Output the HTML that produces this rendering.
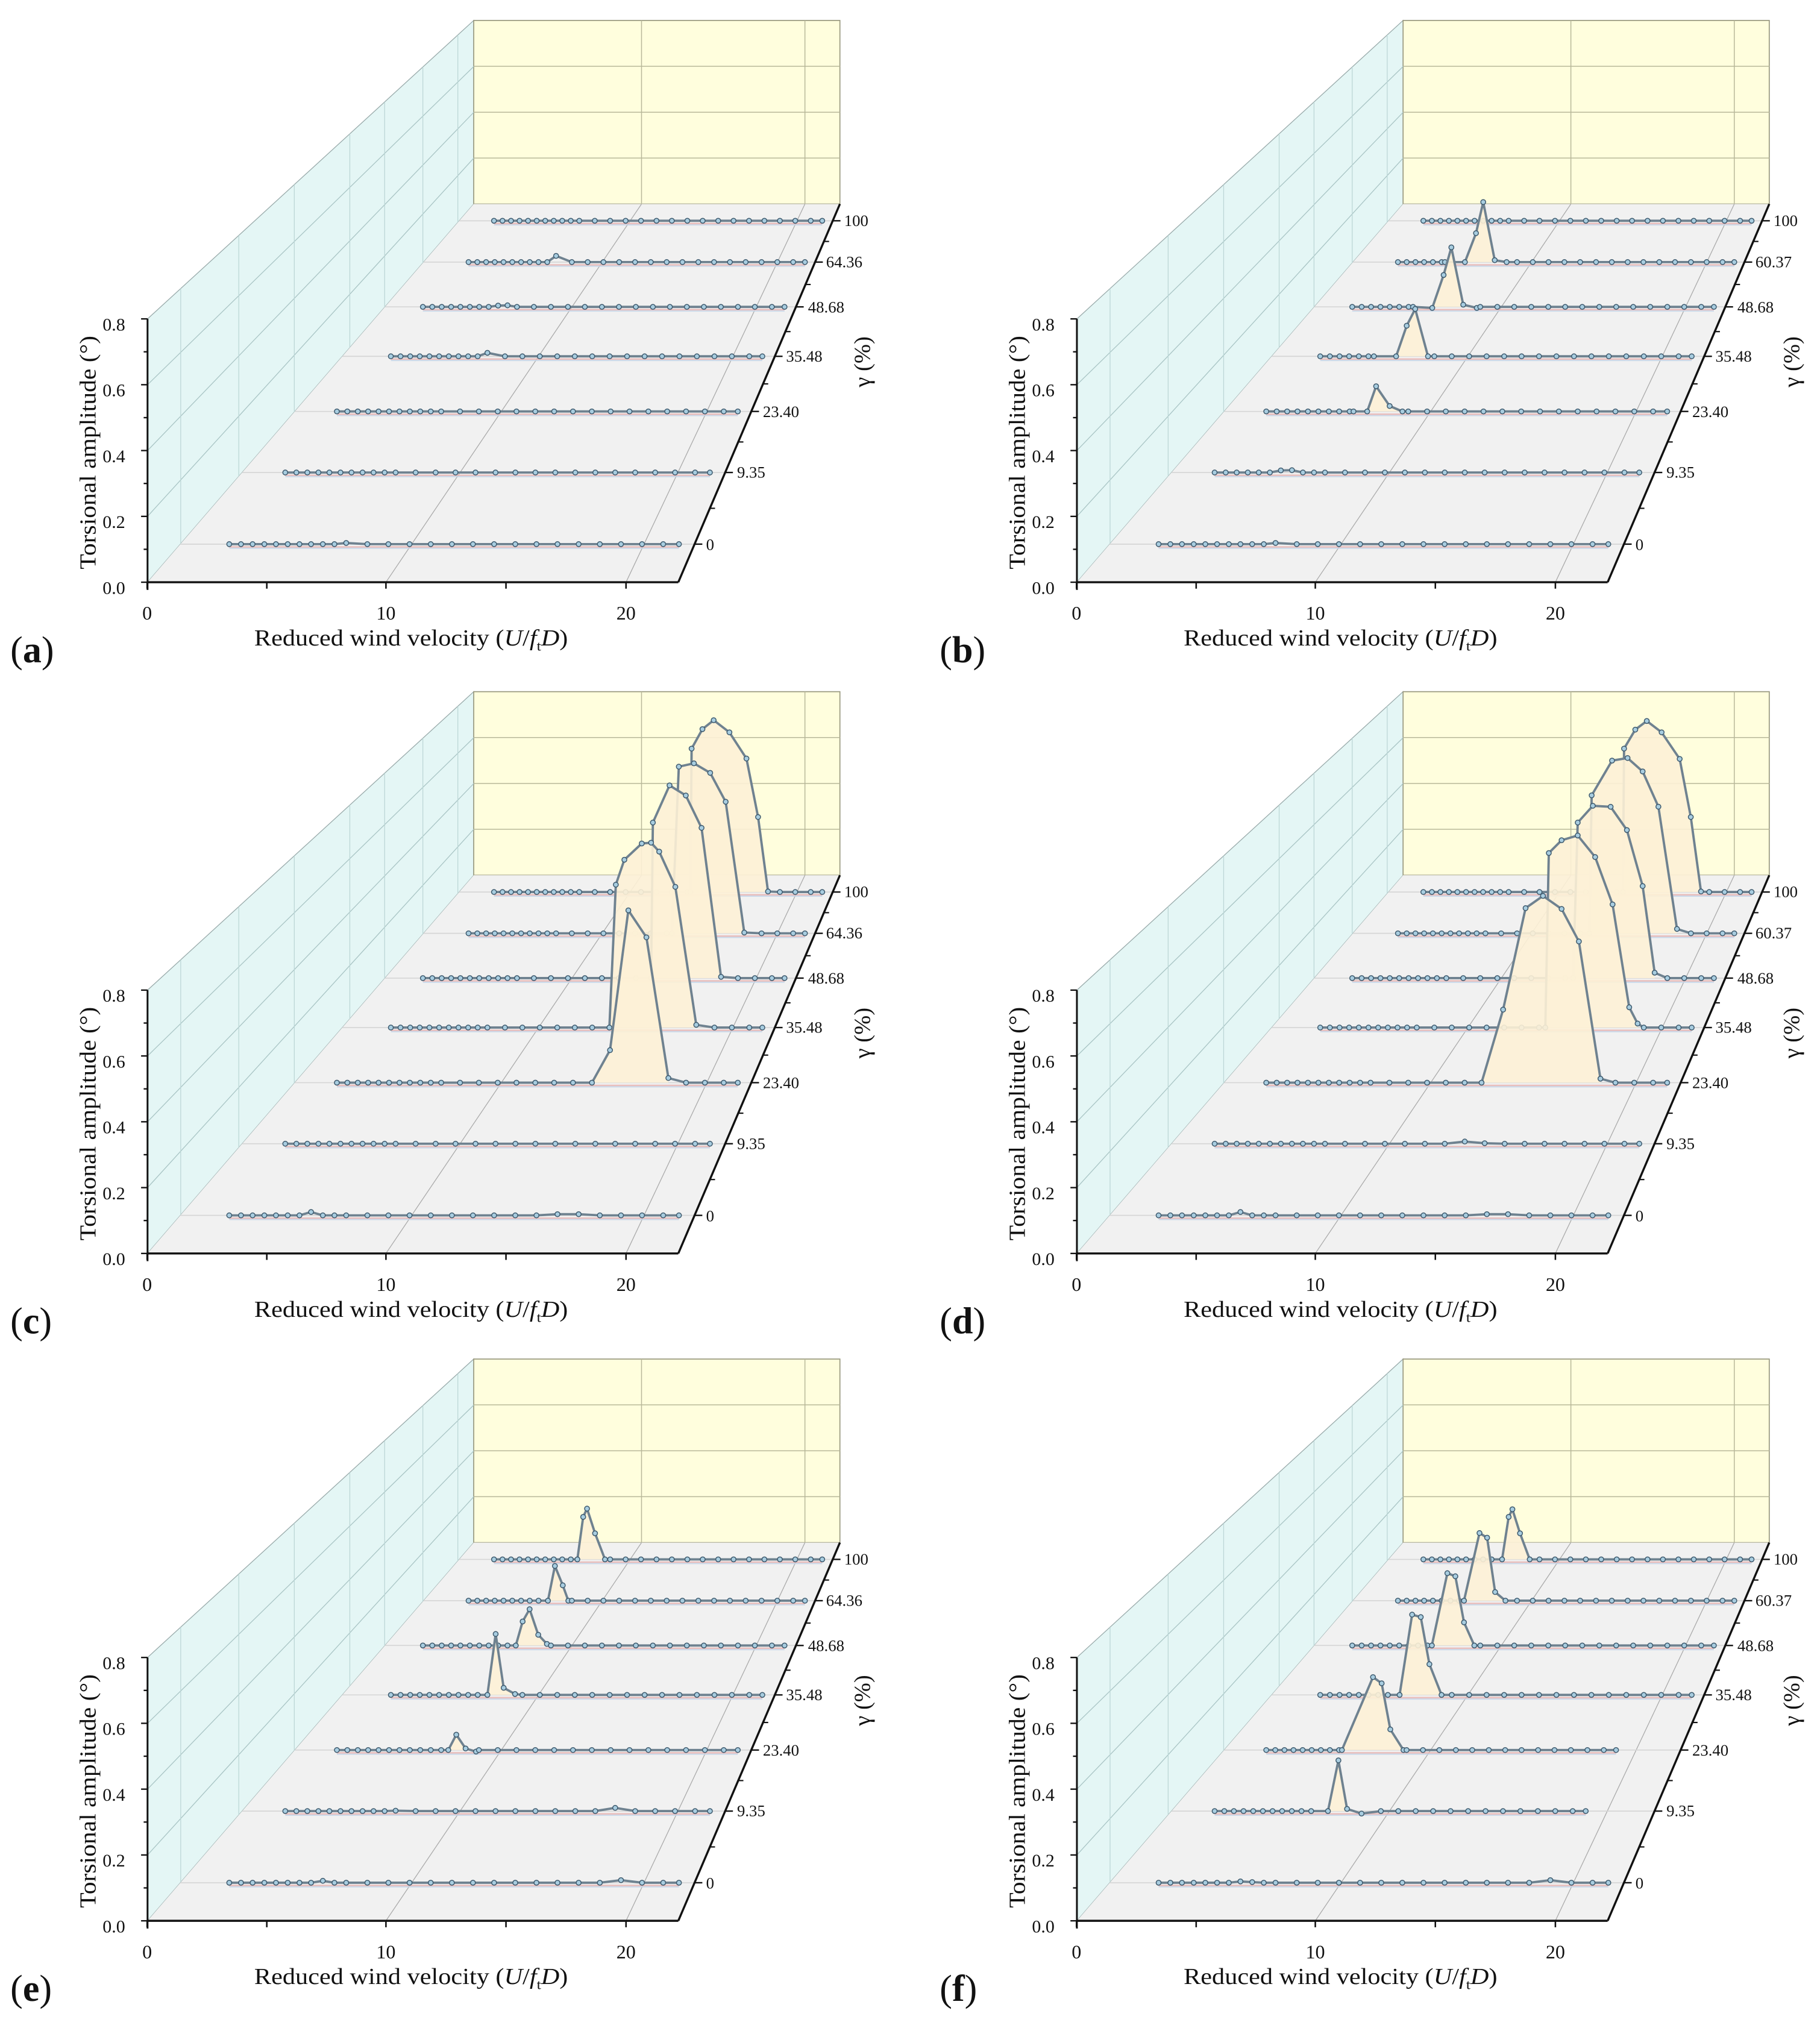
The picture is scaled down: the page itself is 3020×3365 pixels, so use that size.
<!DOCTYPE html>
<html><head><meta charset="utf-8"><style>
html,body{margin:0;padding:0;background:#fff;}
svg{display:block;}
text{font-family:"Liberation Serif",serif;fill:#111;}
</style></head><body>
<svg id="s" xmlns="http://www.w3.org/2000/svg" width="3020" height="3365" viewBox="0 0 1410 1571">
<rect width="1410" height="1571" fill="#fff"/>
<g id="pa" transform="translate(0,0)"></g>
<g id="pb" transform="translate(720,0)"></g>
<g id="pc" transform="translate(0,520)"></g>
<g id="pd" transform="translate(720,520)"></g>
<g id="pe" transform="translate(0,1037)"></g>
<g id="pf" transform="translate(720,1037)"></g>

<g id="texts">
<g transform="translate(0,0)">
<text x="97" y="256" font-size="14" text-anchor="end">0.8</text><text x="97" y="358" font-size="14" text-anchor="end">0.4</text><text x="97" y="307" font-size="14" text-anchor="end">0.6</text><text x="97" y="409" font-size="14" text-anchor="end">0.2</text><text x="97" y="460" font-size="14" text-anchor="end">0.0</text>
<text x="114" y="480" font-size="15" text-anchor="middle">0</text><text x="299" y="480" font-size="15" text-anchor="middle">10</text><text x="485" y="480" font-size="15" text-anchor="middle">20</text>
<text x="197" y="500" font-size="18" textLength="243" lengthAdjust="spacingAndGlyphs">Reduced wind velocity (<tspan font-style="italic">U</tspan>/<tspan font-style="italic">f</tspan><tspan font-size="11" dy="4">t</tspan><tspan font-style="italic" dy="-4">D</tspan>)</text>
<text transform="translate(74,441) rotate(-90)" font-size="18" textLength="181" lengthAdjust="spacingAndGlyphs">Torsional amplitude (°)</text>
<text x="8" y="513" font-size="29">(<tspan font-weight="bold">a</tspan>)</text>
<text x="547" y="426" font-size="12.5">0</text><text x="571" y="370" font-size="12.5">9.35</text><text x="591" y="323" font-size="12.5">23.40</text><text x="609" y="280" font-size="12.5">35.48</text><text x="626" y="242" font-size="12.5">48.68</text><text x="640" y="207" font-size="12.5">64.36</text><text x="654" y="175" font-size="12.5">100</text>
<text transform="translate(674,300) rotate(-90)" font-size="18">γ (%)</text>
</g>
<g transform="translate(720,0)">
<text x="97" y="256" font-size="14" text-anchor="end">0.8</text><text x="97" y="358" font-size="14" text-anchor="end">0.4</text><text x="97" y="307" font-size="14" text-anchor="end">0.6</text><text x="97" y="409" font-size="14" text-anchor="end">0.2</text><text x="97" y="460" font-size="14" text-anchor="end">0.0</text>
<text x="114" y="480" font-size="15" text-anchor="middle">0</text><text x="299" y="480" font-size="15" text-anchor="middle">10</text><text x="485" y="480" font-size="15" text-anchor="middle">20</text>
<text x="197" y="500" font-size="18" textLength="243" lengthAdjust="spacingAndGlyphs">Reduced wind velocity (<tspan font-style="italic">U</tspan>/<tspan font-style="italic">f</tspan><tspan font-size="11" dy="4">t</tspan><tspan font-style="italic" dy="-4">D</tspan>)</text>
<text transform="translate(74,441) rotate(-90)" font-size="18" textLength="181" lengthAdjust="spacingAndGlyphs">Torsional amplitude (°)</text>
<text x="8" y="513" font-size="29">(<tspan font-weight="bold">b</tspan>)</text>
<text x="547" y="426" font-size="12.5">0</text><text x="571" y="370" font-size="12.5">9.35</text><text x="591" y="323" font-size="12.5">23.40</text><text x="609" y="280" font-size="12.5">35.48</text><text x="626" y="242" font-size="12.5">48.68</text><text x="640" y="207" font-size="12.5">60.37</text><text x="654" y="175" font-size="12.5">100</text>
<text transform="translate(674,300) rotate(-90)" font-size="18">γ (%)</text>
</g>
<g transform="translate(0,520)">
<text x="97" y="256" font-size="14" text-anchor="end">0.8</text><text x="97" y="358" font-size="14" text-anchor="end">0.4</text><text x="97" y="307" font-size="14" text-anchor="end">0.6</text><text x="97" y="409" font-size="14" text-anchor="end">0.2</text><text x="97" y="460" font-size="14" text-anchor="end">0.0</text>
<text x="114" y="480" font-size="15" text-anchor="middle">0</text><text x="299" y="480" font-size="15" text-anchor="middle">10</text><text x="485" y="480" font-size="15" text-anchor="middle">20</text>
<text x="197" y="500" font-size="18" textLength="243" lengthAdjust="spacingAndGlyphs">Reduced wind velocity (<tspan font-style="italic">U</tspan>/<tspan font-style="italic">f</tspan><tspan font-size="11" dy="4">t</tspan><tspan font-style="italic" dy="-4">D</tspan>)</text>
<text transform="translate(74,441) rotate(-90)" font-size="18" textLength="181" lengthAdjust="spacingAndGlyphs">Torsional amplitude (°)</text>
<text x="8" y="513" font-size="29">(<tspan font-weight="bold">c</tspan>)</text>
<text x="547" y="426" font-size="12.5">0</text><text x="571" y="370" font-size="12.5">9.35</text><text x="591" y="323" font-size="12.5">23.40</text><text x="609" y="280" font-size="12.5">35.48</text><text x="626" y="242" font-size="12.5">48.68</text><text x="640" y="207" font-size="12.5">64.36</text><text x="654" y="175" font-size="12.5">100</text>
<text transform="translate(674,300) rotate(-90)" font-size="18">γ (%)</text>
</g>
<g transform="translate(720,520)">
<text x="97" y="256" font-size="14" text-anchor="end">0.8</text><text x="97" y="358" font-size="14" text-anchor="end">0.4</text><text x="97" y="307" font-size="14" text-anchor="end">0.6</text><text x="97" y="409" font-size="14" text-anchor="end">0.2</text><text x="97" y="460" font-size="14" text-anchor="end">0.0</text>
<text x="114" y="480" font-size="15" text-anchor="middle">0</text><text x="299" y="480" font-size="15" text-anchor="middle">10</text><text x="485" y="480" font-size="15" text-anchor="middle">20</text>
<text x="197" y="500" font-size="18" textLength="243" lengthAdjust="spacingAndGlyphs">Reduced wind velocity (<tspan font-style="italic">U</tspan>/<tspan font-style="italic">f</tspan><tspan font-size="11" dy="4">t</tspan><tspan font-style="italic" dy="-4">D</tspan>)</text>
<text transform="translate(74,441) rotate(-90)" font-size="18" textLength="181" lengthAdjust="spacingAndGlyphs">Torsional amplitude (°)</text>
<text x="8" y="513" font-size="29">(<tspan font-weight="bold">d</tspan>)</text>
<text x="547" y="426" font-size="12.5">0</text><text x="571" y="370" font-size="12.5">9.35</text><text x="591" y="323" font-size="12.5">23.40</text><text x="609" y="280" font-size="12.5">35.48</text><text x="626" y="242" font-size="12.5">48.68</text><text x="640" y="207" font-size="12.5">60.37</text><text x="654" y="175" font-size="12.5">100</text>
<text transform="translate(674,300) rotate(-90)" font-size="18">γ (%)</text>
</g>
<g transform="translate(0,1037)">
<text x="97" y="256" font-size="14" text-anchor="end">0.8</text><text x="97" y="358" font-size="14" text-anchor="end">0.4</text><text x="97" y="307" font-size="14" text-anchor="end">0.6</text><text x="97" y="409" font-size="14" text-anchor="end">0.2</text><text x="97" y="460" font-size="14" text-anchor="end">0.0</text>
<text x="114" y="480" font-size="15" text-anchor="middle">0</text><text x="299" y="480" font-size="15" text-anchor="middle">10</text><text x="485" y="480" font-size="15" text-anchor="middle">20</text>
<text x="197" y="500" font-size="18" textLength="243" lengthAdjust="spacingAndGlyphs">Reduced wind velocity (<tspan font-style="italic">U</tspan>/<tspan font-style="italic">f</tspan><tspan font-size="11" dy="4">t</tspan><tspan font-style="italic" dy="-4">D</tspan>)</text>
<text transform="translate(74,441) rotate(-90)" font-size="18" textLength="181" lengthAdjust="spacingAndGlyphs">Torsional amplitude (°)</text>
<text x="8" y="513" font-size="29">(<tspan font-weight="bold">e</tspan>)</text>
<text x="547" y="426" font-size="12.5">0</text><text x="571" y="370" font-size="12.5">9.35</text><text x="591" y="323" font-size="12.5">23.40</text><text x="609" y="280" font-size="12.5">35.48</text><text x="626" y="242" font-size="12.5">48.68</text><text x="640" y="207" font-size="12.5">64.36</text><text x="654" y="175" font-size="12.5">100</text>
<text transform="translate(674,300) rotate(-90)" font-size="18">γ (%)</text>
</g>
<g transform="translate(720,1037)">
<text x="97" y="256" font-size="14" text-anchor="end">0.8</text><text x="97" y="358" font-size="14" text-anchor="end">0.4</text><text x="97" y="307" font-size="14" text-anchor="end">0.6</text><text x="97" y="409" font-size="14" text-anchor="end">0.2</text><text x="97" y="460" font-size="14" text-anchor="end">0.0</text>
<text x="114" y="480" font-size="15" text-anchor="middle">0</text><text x="299" y="480" font-size="15" text-anchor="middle">10</text><text x="485" y="480" font-size="15" text-anchor="middle">20</text>
<text x="197" y="500" font-size="18" textLength="243" lengthAdjust="spacingAndGlyphs">Reduced wind velocity (<tspan font-style="italic">U</tspan>/<tspan font-style="italic">f</tspan><tspan font-size="11" dy="4">t</tspan><tspan font-style="italic" dy="-4">D</tspan>)</text>
<text transform="translate(74,441) rotate(-90)" font-size="18" textLength="181" lengthAdjust="spacingAndGlyphs">Torsional amplitude (°)</text>
<text x="8" y="513" font-size="29">(<tspan font-weight="bold">f</tspan>)</text>
<text x="547" y="426" font-size="12.5">0</text><text x="571" y="370" font-size="12.5">9.35</text><text x="591" y="323" font-size="12.5">23.40</text><text x="609" y="280" font-size="12.5">35.48</text><text x="626" y="242" font-size="12.5">48.68</text><text x="640" y="207" font-size="12.5">60.37</text><text x="654" y="175" font-size="12.5">100</text>
<text transform="translate(674,300) rotate(-90)" font-size="18">γ (%)</text>
</g>
</g>
</svg>
<script>
(function(){
var NS="http://www.w3.org/2000/svg";
function el(p,n,a){var e=document.createElementNS(NS,n);for(var k in a)e.setAttribute(k,a[k]);p.appendChild(e);return e;}
function pts(a){return a.map(function(p){return p[0].toFixed(1)+","+p[1].toFixed(1);}).join(" ");}
var FL=114.3,FB=451,BL=367,BT=158,BR=650.7,FR=525.5,TOPY=15.8,YT=247;
var bases=[421.5,366,318.7,276,237.7,203,171];
var starts=[177.6,221,261,302.8,327.6,363,382.7];
var ends=[526,550,571.6,590.6,607.8,623.6,637];
function leftX(y){return FL+(FB-y)*(BL-FL)/(FB-BT);}
function rightX(y){return FR+(FB-y)*(BR-FR)/(FB-BT);}

function frame(g){
  el(g,"polygon",{points:pts([[FL,YT],[BL,TOPY],[BL,BT],[FL,FB]]),fill:"#e4f6f5",stroke:"#9aa","stroke-width":"0.6"});
  el(g,"rect",{x:BL,y:TOPY,width:BR-BL,height:BT-TOPY,fill:"#fffedd",stroke:"#9a9a80","stroke-width":"0.8"});
  el(g,"polygon",{points:pts([[FL,FB],[FR,FB],[BR,BT],[BL,BT]]),fill:"#f1f1f1"});
  [122.4,86.9,51.3].forEach(function(y){el(g,"line",{x1:BL,y1:y,x2:BR,y2:y,stroke:"#b8b89a","stroke-width":"0.7"});});
  [497,623.6].forEach(function(x){el(g,"line",{x1:x,y1:TOPY,x2:x,y2:BT,stroke:"#b8b89a","stroke-width":"0.7"});});
  for(var i=1;i<4;i++){var yy=FB-51*i,yb=BT-35.5*i;el(g,"line",{x1:FL,y1:yy,x2:BL,y2:yb,stroke:"#a8c4c4","stroke-width":"0.6"});}
  [140,185,228,271,298,327.6,354.7].forEach(function(x){
    var t=(x-FL)/(BL-FL);var yb=FB+(BT-FB)*t, yt=YT+(TOPY-YT)*t;
    el(g,"line",{x1:x,y1:yt,x2:x,y2:yb,stroke:"#bcd6d6","stroke-width":"0.6"});});
  el(g,"line",{x1:299,y1:FB,x2:497,y2:BT,stroke:"#aaa","stroke-width":"0.6"});
  el(g,"line",{x1:485,y1:FB,x2:623.6,y2:BT,stroke:"#aaa","stroke-width":"0.6"});
  bases.forEach(function(y){el(g,"line",{x1:leftX(y),y1:y,x2:rightX(y),y2:y,stroke:"#d6d6d6","stroke-width":"0.8"});});
  el(g,"line",{x1:FL,y1:YT,x2:FL,y2:FB+6,stroke:"#111","stroke-width":"1.4"});
  el(g,"line",{x1:FL,y1:FB,x2:FR,y2:FB,stroke:"#111","stroke-width":"1.6"});
  el(g,"line",{x1:FR,y1:FB,x2:BR,y2:BT,stroke:"#111","stroke-width":"1.6"});
  for(var k=0;k<=8;k++){var y=FB-25.5*k;el(g,"line",{x1:FL-(k%2?3:5),y1:y,x2:FL,y2:y,stroke:"#111","stroke-width":"1.1"});}
  [114,206.7,299,392,485].forEach(function(x){el(g,"line",{x1:x,y1:FB,x2:x,y2:FB+5,stroke:"#111","stroke-width":"1.2"});});
  bases.forEach(function(y,i){var x=rightX(y);el(g,"line",{x1:x,y1:y,x2:x+6,y2:y,stroke:"#111","stroke-width":"1.1"});
    var nb=(i<6)?bases[i+1]:BT;var ym=(y+nb)/2;if(i<6){var xm=rightX(ym);el(g,"line",{x1:xm,y1:ym,x2:xm+4,y2:ym,stroke:"#111","stroke-width":"1"});}});
}

function series(g,i,peak,endOverride,bumps){
  var base=bases[i],x0=starts[i],x1=endOverride||ends[i],L=x1-x0;
  var xs=[];for(var k=0;k<11;k++)xs.push(x0+k*L*0.026);
  var u=x0+10*L*0.026;while(u<x1-2){u+=L*0.047;if(u>x1)u=x1;xs.push(u);} if(xs[xs.length-1]<x1)xs.push(x1);
  var P=xs.map(function(x){var y=base;(bumps||[]).forEach(function(b){var d=Math.abs(x-b[0]);if(d<b[2])y-=b[1]*(1-d/b[2]);});return [x,y];});
  if(peak){var px0=peak[0][0],px1=peak[peak.length-1][0];
    P=P.filter(function(p){return p[0]<px0-2||p[0]>px1+2;});
    P=P.concat(peak);P.sort(function(a,b){return a[0]-b[0];});
    var poly=[[px0,base]].concat(peak).concat([[px1,base]]);
    el(g,"polygon",{points:pts(poly),fill:"#fdf1d6","fill-opacity":"0.9",stroke:"none"});
    el(g,"polyline",{points:pts(peak),fill:"none",stroke:"#c4b4d6","stroke-width":"1.6"});
  }
  el(g,"line",{x1:x0,y1:base+2.2,x2:x1,y2:base+2.2,stroke:"#e9b3b0","stroke-width":"1.3","stroke-opacity":"0.8"});
  el(g,"line",{x1:x0,y1:base+3.2,x2:x1,y2:base+3.2,stroke:"#c3d6ea","stroke-width":"1","stroke-opacity":"0.8"});
  el(g,"polyline",{points:pts(P),fill:"none",stroke:"#6f8290","stroke-width":"1.8","stroke-linejoin":"round"});
  P.forEach(function(p){el(g,"circle",{cx:p[0].toFixed(1),cy:p[1].toFixed(1),r:"1.9",fill:"#a8cde0",stroke:"#3e5a6e","stroke-width":"0.7"});});
}
function conv(raw,ax,sx,ay,sy,base){var zb=raw[0][1];return raw.map(function(p){return [ax+p[0]/sx, base+(p[1]-zb)/sy];});}

function build(id,peaks,opt){
  var g=document.getElementById(id);frame(g);
  opt=opt||{};
  for(var i=6;i>=0;i--){series(g,i,peaks[i]||null,(opt.ends||{})[i],(opt.bumps||{})[i]);}
}
build("pa",{},{bumps:{0:[[275,6,8]],5:[[431,5,6]],3:[[377,3,6]],4:[[390,2,8]]}});
(function(){var ax=164,sx=3.037,sy=4.77;var R={
5:[[715,297],[762,297],[788,190],[805,75],[832,290],[860,297]],
4:[[640,458],[685,462],[712,340],[730,238],[758,450],[790,462]],
3:[[548,645],[600,645],[625,532],[645,470],[675,645]],
2:[[500,848],[532,848],[553,755],[585,828],[615,848]]};
var pk={};for(var k in R)pk[k]=conv(R[k],ax,sx,0,sy,bases[k]);
build("pb",pk,{bumps:{0:[[275,6,8]],1:[[277,3,10]]}});})();
(function(){var ax=420,sx=5.57,sy=4.77;var R={
2:[[215,1445],[293,1325],[372,808],[450,908],[545,1428]],
3:[[290,1240],[318,712],[355,620],[430,560],[470,557],[505,590],[575,720],[665,1230]],
4:[[470,1055],[478,480],[550,343],[620,380],[688,500],[772,1050]],
5:[[560,888],[590,272],[655,260],[725,295],[792,402],[872,885]],
6:[[640,735],[645,205],[692,133],[740,100],[808,145],[882,242],[932,458],[975,733]]};
var pk={};for(var k in R)pk[k]=conv(R[k],ax,sx,0,sy,bases[k]);
build("pc",pk,{bumps:{0:[[240,3,8],[440,2,15]]}});})();
(function(){var ax=400,sx=5.57,sy=4.77;var R={
2:[[155,1440],[248,1170],[345,795],[420,750],[500,798],[575,918],[668,1425]],
3:[[430,1240],[445,595],[500,548],[570,530],[645,610],[720,785],[792,1165],[828,1225]],
4:[[550,1055],[570,480],[635,418],[712,422],[782,508],[850,715],[902,1035]],
5:[[620,888],[630,378],[718,250],[785,240],[850,290],[918,420],[998,872]],
6:[[765,735],[770,205],[818,135],[868,103],[932,145],[1010,243],[1058,458],[1102,733]]};
var pk={};for(var k in R)pk[k]=conv(R[k],ax,sx,0,sy,bases[k]);
build("pd",pk,{bumps:{0:[[240,3,8],[440,2,15]],1:[[420,3,12]]}});})();
(function(){var ax=233.4,sx=3.731,sy=4.198;var R={
6:[[798,375],[815,237],[826,210],[849,290],[878,375]],
5:[[713,510],[733,397],[756,460],[772,510]],
4:[[620,655],[640,577],[660,537],[685,620],[710,650]],
3:[[538,818],[562,620],[585,795],[618,815]],
2:[[425,990],[448,940],[475,985],[505,995]]};
var pk={};for(var k in R)pk[k]=conv(R[k],ax,sx,0,sy,bases[k]);
build("pe",pk,{bumps:{0:[[247,3,6],[485,3,12]],1:[[312,3,6],[475,3,10]]}});})();
(function(){var ax=213.7,sx=3.731,sy=4.198;var R={
6:[[858,375],[877,237],[888,212],[910,290],[938,375]],
5:[[748,510],[793,290],[815,305],[838,482],[868,510]],
4:[[655,655],[700,420],[723,430],[748,580],[778,655]],
3:[[562,818],[598,557],[623,565],[648,718],[683,818]],
2:[[395,995],[485,758],[510,778],[535,928],[573,995]],
1:[[355,1185],[385,1020],[410,1178],[452,1193]]};
var pk={};for(var k in R)pk[k]=conv(R[k],ax,sx,0,sy,bases[k]);
build("pf",pk,{ends:{1:508.5,2:532},bumps:{0:[[245,3,6],[485,3,12]]}});})();
})();
</script>
</body></html>
